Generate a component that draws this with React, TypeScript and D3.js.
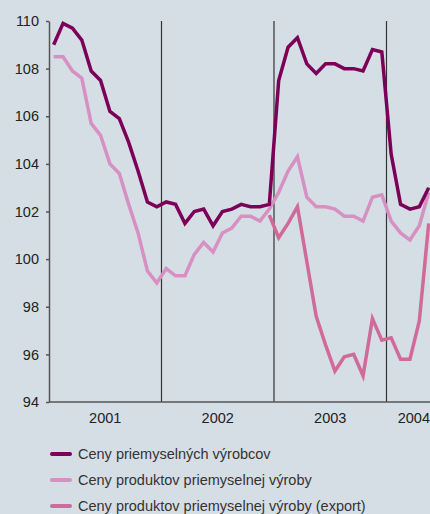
import React, { useEffect, useRef } from 'react';
import * as d3 from 'd3';

// monthly index values, Jan 2001 – May 2004
const producerPrices = [
  109.0, 109.9, 109.7, 109.2, 107.9, 107.5, 106.2, 105.9, 104.9, 103.7, 102.4, 102.2,
  102.4, 102.3, 101.5, 102.0, 102.1, 101.4, 102.0, 102.1, 102.3, 102.2, 102.2, 102.3,
  107.5, 108.9, 109.3, 108.2, 107.8, 108.2, 108.2, 108.0, 108.0, 107.9, 108.8, 108.7,
  104.4, 102.3, 102.1, 102.2, 103.0,
];
const productPrices = [
  108.5, 108.5, 107.9, 107.6, 105.7, 105.2, 104.0, 103.6, 102.3, 101.1, 99.5, 99.0,
  99.6, 99.3, 99.3, 100.2, 100.7, 100.3, 101.1, 101.3, 101.8, 101.8, 101.6, 102.1,
  102.8, 103.7, 104.3, 102.6, 102.2, 102.2, 102.1, 101.8, 101.8, 101.6, 102.6, 102.7,
  101.6, 101.1, 100.8, 101.4, 102.8,
];
// export series starts in Dec 2002 (month index 23)
const exportStart = 23;
const exportPrices = [
  101.85, 100.9, 101.5, 102.2, 99.9, 97.6, 96.4, 95.3, 95.9, 96.0, 95.1, 97.5,
  96.6, 96.7, 95.8, 95.8, 97.4, 101.5,
];
const years = ['2001', '2002', '2003', '2004'];
const yTicks = [94, 96, 98, 100, 102, 104, 106, 108, 110];

const seriesNames = [
  'Ceny priemyselných výrobcov',
  'Ceny produktov priemyselnej výroby',
  'Ceny produktov priemyselnej výroby (export)',
];
const colors = ['#7d0058', '#d690c2', '#cf6a9b'];

const W = 430;
const H = 514;

const App: React.FC = () => {
  const svgRef = useRef<SVGSVGElement>(null);

  useEffect(() => {
    if (!svgRef.current) return;
    const svg = d3.select(svgRef.current);
    svg.selectAll('*').remove();

    const left = 49;
    const top = 21;
    const bottom = 402;
    const monthW = 112.5 / 12;

    // x in months from Jan 2001
    const x = d3.scaleLinear().domain([0, 48]).range([left, left + 48 * monthW]);
    const y = d3.scaleLinear().domain([94, 110]).range([bottom, top]);

    const font = '"Liberation Sans", Arial, sans-serif';

    // year separators
    [12, 24, 36].forEach(m => {
      svg.append('line')
        .attr('x1', x(m)).attr('x2', x(m))
        .attr('y1', top).attr('y2', bottom)
        .attr('stroke', '#333').attr('stroke-width', 1.2);
    });

    // y axis
    const yAxis = svg.append('g').attr('transform', `translate(${left},0)`)
      .call(d3.axisLeft(y).tickValues(yTicks).tickSize(3).tickSizeOuter(0));
    yAxis.select('.domain').attr('stroke', '#555').attr('stroke-width', 1.5);
    yAxis.selectAll('.tick line').attr('stroke', '#555').attr('stroke-width', 1.5);
    yAxis.selectAll('.tick text')
      .attr('x', -10)
      .attr('fill', '#222')
      .style('font-family', font)
      .style('font-size', '14.5px');

    // x axis line
    svg.append('line')
      .attr('x1', left).attr('x2', W)
      .attr('y1', bottom).attr('y2', bottom)
      .attr('stroke', '#555').attr('stroke-width', 1.5);

    years.forEach((yr, i) => {
      const last = i === years.length - 1;
      svg.append('text')
        .attr('x', last ? W : x(i * 12 + 6))
        .attr('y', 423)
        .attr('text-anchor', last ? 'end' : 'middle')
        .attr('fill', '#222')
        .style('font-family', font)
        .style('font-size', '14.5px')
        .text(yr);
    });

    const line = d3.line<[number, number]>()
      .x(d => x(d[0] + 0.5))
      .y(d => y(d[1]));

    const data: [number, number][][] = [
      producerPrices.map((v, i) => [i, v]),
      productPrices.map((v, i) => [i, v]),
      exportPrices.map((v, i) => [i + exportStart, v]),
    ];

    // draw export first, then light, then dark on top
    [2, 1, 0].forEach(k => {
      svg.append('path')
        .datum(data[k])
        .attr('fill', 'none')
        .attr('stroke', colors[k])
        .attr('stroke-width', 3.5)
        .attr('stroke-linejoin', 'miter')
        .attr('d', line);
    });

    // legend
    seriesNames.forEach((name, i) => {
      const ly = 454 + i * 26;
      svg.append('line')
        .attr('x1', 52).attr('x2', 70)
        .attr('y1', ly).attr('y2', ly)
        .attr('stroke', colors[i])
        .attr('stroke-width', 4)
        .attr('stroke-linecap', 'round');
      svg.append('text')
        .attr('x', 78)
        .attr('y', ly + 5)
        .attr('fill', '#333')
        .style('font-family', font)
        .style('font-size', '14.5px')
        .text(name);
    });
  }, []);

  return (
    <div style={{ position: 'absolute', left: 0, top: 0, width: W, height: H, background: '#d6dee5' }}>
      <svg ref={svgRef} width={W} height={H} style={{ display: 'block' }} />
    </div>
  );
};

export default App;
